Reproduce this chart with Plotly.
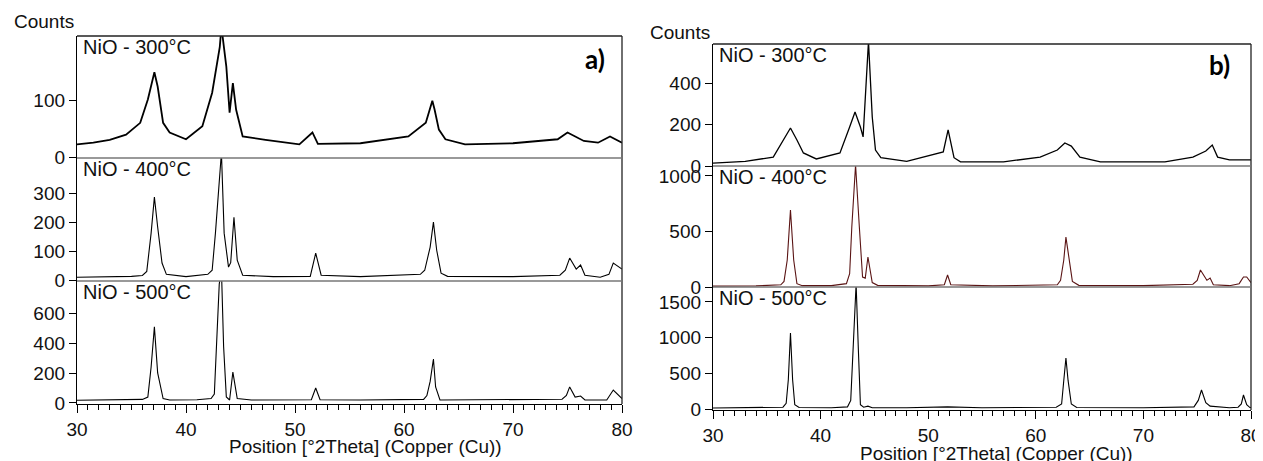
import plotly.graph_objects as go

# peak profiles (2theta, counts)
a300_x = [30, 31.5, 33, 34.5, 35.8, 36.5, 37.1, 37.4, 37.9, 38.5, 40, 41.5, 42.4, 43.1, 43.25, 43.7, 44.0, 44.3, 44.6, 45.2,
          47.3, 50.4, 51.6, 52.1, 56, 60.4, 62.0, 62.6, 62.8, 63.2, 63.8, 65.6, 70, 74.1, 75.0, 75.6, 76.5, 77.8, 78.9, 80]
a300_y = [23, 26, 31, 40, 61, 102, 150, 125, 61, 44, 32, 55, 114, 195, 230, 160, 79, 131, 84, 37,
          31, 23, 44, 24, 25, 37, 61, 100, 85, 49, 32, 23, 25, 32, 44, 38, 29, 26, 37, 26]

a400_x = [30, 33, 35, 36.0, 36.4, 36.8, 37.1, 37.4, 37.8, 38.2, 40, 42.0, 42.4, 42.7, 43.0, 43.25, 43.5, 43.9, 44.1, 44.4,
          44.7, 45.2, 48, 51.4, 51.9, 52.4, 56, 61.5, 61.9, 62.4, 62.7, 63.0, 63.4, 64, 70, 74.3, 74.8, 75.2, 75.8, 76.2,
          76.6, 78.0, 78.8, 79.2, 80]
a400_y = [10, 11, 13, 16, 30, 162, 286, 183, 59, 20, 12, 20, 34, 162, 330, 440, 162, 45, 60, 217,
          69, 17, 12, 13, 93, 17, 12, 20, 34, 114, 200, 103, 24, 13, 12, 17, 34, 76, 38, 52,
          17, 10, 20, 59, 38]

a500_x = [30, 34, 36.0, 36.5, 36.8, 37.1, 37.4, 37.9, 38.5, 41, 42.3, 42.6, 42.8, 43.05, 43.25, 43.45, 43.7, 44.0, 44.3, 44.7,
          46, 51.5, 51.9, 52.3, 56, 61.8, 62.1, 62.4, 62.7, 62.9, 63.3, 66, 74.5, 74.9, 75.2, 75.7, 76.2, 76.6, 78.6, 79.2, 80]
a500_y = [18, 20, 24, 40, 242, 512, 202, 30, 20, 22, 30, 60, 377, 800, 900, 380, 40, 20, 208, 30,
          20, 22, 101, 22, 20, 24, 50, 145, 296, 108, 20, 20, 25, 50, 108, 40, 47, 20, 20, 87, 30]

b300_x = [30, 33, 35.6, 36.5, 37.2, 37.8, 38.4, 39.6, 41.8, 42.7, 43.2, 43.7, 43.95, 44.45, 44.8, 45.1, 45.6, 48, 51.4, 51.85,
          52.4, 53, 57, 60.4, 62.0, 62.7, 63.3, 64.1, 66, 72, 74.6, 75.8, 76.4, 76.9, 78, 80]
b300_y = [14, 22, 43, 125, 183, 125, 63, 34, 63, 188, 260, 188, 140, 600, 236, 77, 40, 22, 68, 174,
          40, 20, 20, 43, 77, 111, 96, 43, 20, 20, 43, 72, 101, 43, 30, 30]

b400_x = [30, 34, 36.3, 36.6, 36.9, 37.2, 37.5, 37.8, 38.3, 41, 42.4, 42.7, 42.9, 43.25, 43.6, 43.9, 44.15, 44.4, 44.8, 45.3,
          50, 51.5, 51.8, 52.1, 56, 62.0, 62.3, 62.6, 62.8, 63.1, 63.4, 64, 70, 74.6, 75.0, 75.3, 75.9, 76.2, 76.5, 78,
          78.9, 79.3, 79.6, 80]
b400_y = [8, 10, 20, 50, 243, 693, 243, 30, 12, 12, 30, 120, 540, 1100, 540, 90, 80, 270, 40, 15,
          10, 20, 108, 20, 10, 20, 60, 243, 450, 243, 50, 15, 12, 25, 60, 153, 60, 80, 20, 12,
          30, 90, 90, 40]

b500_x = [30, 35, 36.5, 36.8, 37.0, 37.2, 37.4, 37.6, 38, 41, 42.5, 42.8, 43.0, 43.3, 43.5, 43.7, 44.0, 44.4, 44.8, 48,
          51.8, 55, 61.9, 62.4, 62.6, 62.8, 63.0, 63.3, 63.8, 70, 74.7, 75.1, 75.4, 75.8, 76.2, 78, 78.8, 79.1, 79.3, 79.6,
          79.9, 80]
b500_y = [15, 16, 25, 80, 410, 1064, 410, 60, 20, 18, 30, 120, 870, 1750, 870, 60, 25, 40, 18, 18,
          30, 18, 25, 70, 400, 714, 400, 70, 20, 18, 30, 120, 266, 90, 40, 18, 25, 70, 196, 60,
          20, 20]

labels = ['NiO - 300°C', 'NiO - 400°C', 'NiO - 500°C']
x_ticks = [30, 40, 50, 60, 70, 80]
x_title = 'Position [°2Theta] (Copper (Cu))'

# the page puts the plot 8px in from the corner, so work in window pixels and shift
OFF = 8
W, H = 1263 - OFF, 461 - OFF
def px(x): return (x - OFF) / W
def py(y): return 1 - (y - OFF) / H

FONT = 'Liberation Sans, Arial, sans-serif'
a_dom = [px(77), px(622)]
b_dom = [px(713), px(1251)]

panels = [
    (a300_x, a300_y, a_dom, (36, 158), [-1, 214], [0, 100], 'black', 1.8, labels[0], False),
    (a400_x, a400_y, a_dom, (158, 281), [-3, 421], [0, 100, 200, 300], 'black', 1.1, labels[1], False),
    (a500_x, a500_y, a_dom, (281, 404), [-7, 821], [0, 200, 400, 600], 'black', 1.1, labels[2], True),
    (b300_x, b300_y, b_dom, (44, 166), [0, 588], [0, 200, 400], 'black', 1.3, labels[0], False),
    (b400_x, b400_y, b_dom, (166, 287), [0, 1090], [0, 500, 1000], '#5a1414', 1.1, labels[1], False),
    (b500_x, b500_y, b_dom, (287, 410), [-14, 1708], [0, 500, 1000, 1500], 'black', 1.1, labels[2], True),
]

fig = go.Figure()
layout = {}
shapes = []
annotations = []
for i, (xs, ys, xdom, (top, bot), yr, yt, col, lw, lab, bottom) in enumerate(panels, 1):
    xa = 'x' if i == 1 else f'x{i}'
    ya = 'y' if i == 1 else f'y{i}'
    fig.add_trace(go.Scatter(x=xs, y=ys, mode='lines', line=dict(color=col, width=lw),
                             xaxis=xa, yaxis=ya, showlegend=False, hoverinfo='skip'))
    xax = dict(domain=xdom, range=[30, 80], anchor=ya, showgrid=False, zeroline=False, automargin=False,
               showticklabels=bottom, tickvals=x_ticks)
    if bottom:
        xax.update(showline=True, linecolor='black', linewidth=1.3, ticks='outside', ticklen=8,
                   tickcolor='black', tickfont=dict(family=FONT, size=19, color='#111'),
                   minor=dict(ticks='outside', ticklen=5, dtick=1, tickcolor='black', showgrid=False))
    else:
        xax.update(showline=False, ticks='')
    layout['xaxis' if i == 1 else f'xaxis{i}'] = xax
    layout['yaxis' if i == 1 else f'yaxis{i}'] = dict(
        domain=[py(bot), py(top)], range=yr, anchor=xa, tickvals=yt, ticks='outside', ticklen=7,
        tickcolor='black', showline=True, linecolor='black', linewidth=1.3, showgrid=False, zeroline=False,
        automargin=False, tickfont=dict(family=FONT, size=19, color='#111'))
    # right edge of frame
    shapes.append(dict(type='line', xref='paper', yref='paper', x0=xdom[1], x1=xdom[1], y0=py(bot), y1=py(top),
                       line=dict(color='#222', width=1.3)))
    # top edge / separator
    first = i in (1, 4)
    shapes.append(dict(type='line', xref='paper', yref='paper', x0=xdom[0], x1=xdom[1], y0=py(top), y1=py(top),
                       line=dict(color='#222' if first else '#777', width=1.3)))
    annotations.append(dict(text=lab, x=xdom[0] + 4 / W, y=py(top + 11), xref='paper', yref='paper',
                            xanchor='left', yanchor='middle', showarrow=False,
                            font=dict(family=FONT, size=20, color='#111')))

annotations += [
    dict(text='Counts', x=px(12), y=py(21), xanchor='left'),
    dict(text='Counts', x=px(648), y=py(32), xanchor='left'),
    dict(text=x_title, x=px(365), y=py(446), xanchor='center'),
    dict(text=x_title, x=px(996), y=py(453), xanchor='center'),
]
for a in annotations[-4:]:
    a.update(xref='paper', yref='paper', yanchor='middle', showarrow=False,
             font=dict(family=FONT, size=19, color='#111'))

annotations += [
    dict(text='<b>a)</b>', x=px(595), y=py(59)),
    dict(text='<b>b)</b>', x=px(1219), y=py(65)),
]
for a in annotations[-2:]:
    a.update(xref='paper', yref='paper', xanchor='center', yanchor='middle', showarrow=False,
             font=dict(family='Lato, Open Sans, sans-serif', size=26, color='black'))

fig.update_layout(template='none', width=W, height=H, margin=dict(l=0, r=0, t=0, b=0, autoexpand=False),
                  paper_bgcolor='white', plot_bgcolor='white',
                  shapes=shapes, annotations=annotations, **layout)

fig.write_html("out.html")
